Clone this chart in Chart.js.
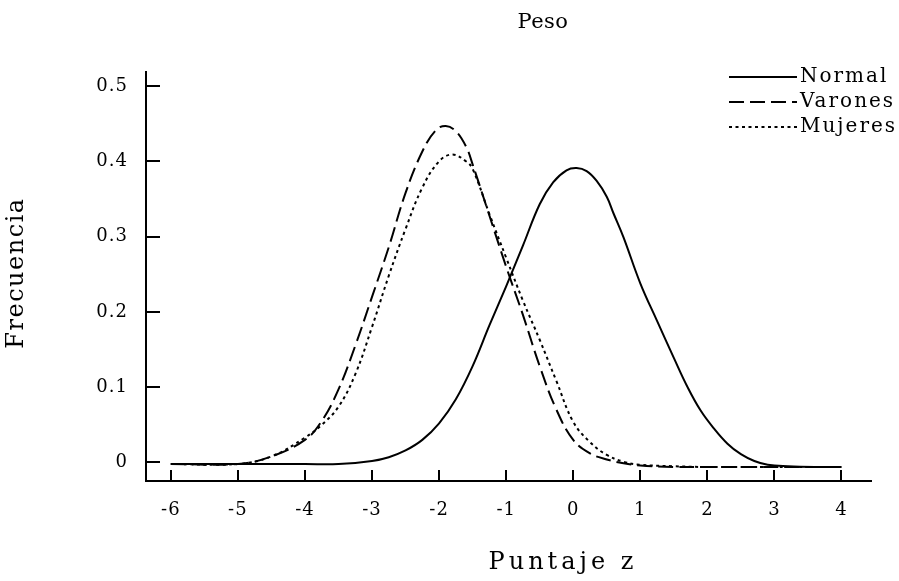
<!DOCTYPE html>
<html lang="es">
<head>
<meta charset="utf-8">
<title>Peso</title>
<script src="https://cdn.jsdelivr.net/npm/chart.js@4.4.0/dist/chart.umd.min.js"></script>
<style>
  html, body { margin: 0; padding: 0; background: #fff; }
  #wrap { position: relative; width: 899px; height: 581px; }
</style>
</head>
<body>
<div id="wrap"><canvas id="peso"></canvas></div>
<script>
// valores (puntaje z -> frecuencia)
const zNormal = [-6, -5, -4, -3.5, -3, -2.75, -2.5, -2.25, -2, -1.75, -1.5, -1.25, -1, -0.75, -0.5, -0.3, -0.1, 0.05, 0.2, 0.35, 0.5, 0.6, 0.75, 1, 1.25, 1.5, 1.7, 1.9, 2.1, 2.3, 2.5, 2.7, 2.9, 3.2, 3.6, 4];
const fNormal = [-0.002, -0.002, -0.002, -0.002, 0.002, 0.007, 0.016, 0.030, 0.052, 0.084, 0.128, 0.182, 0.234, 0.288, 0.343, 0.372, 0.388, 0.391, 0.387, 0.374, 0.353, 0.331, 0.299, 0.238, 0.188, 0.139, 0.101, 0.069, 0.045, 0.025, 0.011, 0.002, -0.003, -0.005, -0.006, -0.006];

const zVarones = [-6, -5, -4.5, -4, -3.75, -3.5, -3.25, -3, -2.75, -2.5, -2.25, -2.05, -1.9, -1.75, -1.6, -1.5, -1.25, -1, -0.75, -0.5, -0.25, 0, 0.25, 0.5, 0.75, 1, 1.5, 2, 3, 4];
const fVarones = [-0.002, -0.002, 0.008, 0.030, 0.055, 0.097, 0.155, 0.220, 0.286, 0.358, 0.413, 0.441, 0.447, 0.440, 0.420, 0.396, 0.328, 0.260, 0.196, 0.128, 0.070, 0.030, 0.012, 0.004, -0.001, -0.004, -0.006, -0.006, -0.006, -0.006];

const zMujeres = [-6, -5, -4.5, -4, -3.75, -3.5, -3.25, -3, -2.75, -2.5, -2.25, -2, -1.8, -1.6, -1.5, -1.25, -1, -0.75, -0.5, -0.25, 0, 0.25, 0.5, 0.75, 1, 1.5, 2, 3, 4];
const fMujeres = [-0.002, -0.002, 0.008, 0.033, 0.050, 0.074, 0.117, 0.180, 0.248, 0.310, 0.365, 0.400, 0.409, 0.400, 0.390, 0.330, 0.272, 0.215, 0.163, 0.108, 0.054, 0.027, 0.010, 0.001, -0.003, -0.005, -0.006, -0.006, -0.006];

const xTicks = [-6, -5, -4, -3, -2, -1, 0, 1, 2, 3, 4];
const yTicks = [0, 0.1, 0.2, 0.3, 0.4, 0.5];

const FONT = "'DejaVu Serif', serif";

function pts(xs, ys) {
  return xs.map((v, i) => ({ x: v, y: ys[i] }));
}

// marcas de los ejes hacia adentro
const innerTicks = {
  id: 'innerTicks',
  beforeDraw(chart) {
    chart.ctx.letterSpacing = '1px';
  },
  afterDatasetsDraw(chart) {
    const { ctx, chartArea, scales: { x, y } } = chart;
    ctx.save();
    ctx.strokeStyle = '#000';
    ctx.lineWidth = 2;
    ctx.beginPath();
    x.ticks.forEach(t => {
      const px = Math.round(x.getPixelForValue(t.value));
      ctx.moveTo(px, chartArea.bottom);
      ctx.lineTo(px, chartArea.bottom - 11);
    });
    y.ticks.forEach(t => {
      const py = Math.round(y.getPixelForValue(t.value));
      ctx.moveTo(chartArea.left, py);
      ctx.lineTo(chartArea.left + 14, py);
    });
    ctx.stroke();
    ctx.restore();
  }
};

// titulos y leyenda (con espaciado de letras)
const textos = {
  id: 'textos',
  afterDraw(chart) {
    const ctx = chart.ctx;
    ctx.save();
    ctx.fillStyle = '#000';
    ctx.textAlign = 'center';
    ctx.textBaseline = 'middle';

    ctx.font = '21px ' + FONT;
    ctx.letterSpacing = '0.5px';
    ctx.fillText('Peso', 543, 23);

    ctx.font = '24px ' + FONT;
    ctx.letterSpacing = '4px';
    ctx.fillText('Puntaje z', 563, 563);

    ctx.letterSpacing = '1.5px';
    ctx.save();
    ctx.translate(17, 273);
    ctx.rotate(-Math.PI / 2);
    ctx.fillText('Frecuencia', 0, 0);
    ctx.restore();

    // leyenda
    ctx.font = '20px ' + FONT;
    ctx.letterSpacing = '2px';
    ctx.textAlign = 'left';
    const rows = [77, 102, 127];
    chart.data.datasets.forEach((ds, i) => {
      ctx.save();
      ctx.strokeStyle = '#000';
      ctx.lineWidth = 2;
      ctx.setLineDash(ds.borderDash || []);
      ctx.beginPath();
      ctx.moveTo(729, rows[i]);
      ctx.lineTo(797, rows[i]);
      ctx.stroke();
      ctx.restore();
      ctx.fillText(ds.label, 800, rows[i]);
    });
    ctx.restore();
  }
};

const chart = new Chart(document.getElementById('peso'), {
  type: 'line',
  data: {
    datasets: [
      { label: 'Normal', data: pts(zNormal, fNormal), borderColor: '#000', borderWidth: 2, borderDash: [] },
      { label: 'Varones', data: pts(zVarones, fVarones), borderColor: '#000', borderWidth: 2, borderDash: [15, 6] },
      { label: 'Mujeres', data: pts(zMujeres, fMujeres), borderColor: '#000', borderWidth: 2, borderDash: [3, 3.5] }
    ]
  },
  options: {
    responsive: true,
    maintainAspectRatio: false,
    animation: false,
    devicePixelRatio: 1,
    layout: { padding: { top: 72, right: 28, left: 0, bottom: 0 } },
    elements: {
      point: { radius: 0 },
      line: { tension: 0.4, fill: false }
    },
    plugins: {
      legend: { display: false },
      title: { display: false },
      tooltip: { enabled: false }
    },
    scales: {
      x: {
        type: 'linear',
        min: -6.37,
        max: 4.44,
        grid: { display: false, drawTicks: false },
        border: { display: true, color: '#000', width: 2 },
        ticks: {
          padding: 19,
          color: '#000',
          font: { family: FONT, size: 18 },
          callback: (v) => String(v)
        },
        afterBuildTicks: (s) => { s.ticks = xTicks.map(v => ({ value: v })); },
        afterFit: (s) => { s.height = 100; }
      },
      y: {
        type: 'linear',
        min: -0.0246,
        max: 0.5186,
        grid: { display: false, drawTicks: false },
        border: { display: true, color: '#000', width: 2 },
        ticks: {
          padding: 18,
          color: '#000',
          font: { family: FONT, size: 18 },
          callback: (v) => String(v)
        },
        afterBuildTicks: (s) => { s.ticks = yTicks.map(v => ({ value: v })); },
        afterFit: (s) => { s.width = 146; }
      }
    }
  },
  plugins: [innerTicks, textos]
});
</script>
</body>
</html>
